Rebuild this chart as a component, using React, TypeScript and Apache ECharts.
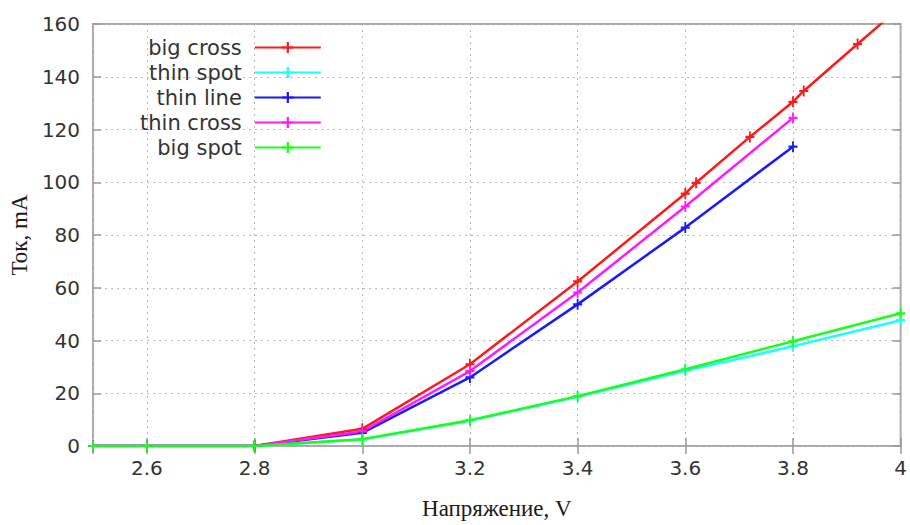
import React, { useEffect, useRef } from "react";
import * as echarts from "echarts";

const seriesNames = ["big cross", "thin spot", "thin line", "thin cross", "big spot"];
const seriesColors = ["#ff1a1a", "#1affff", "#1a1aff", "#ff1aff", "#1aff1a"];

const bigCross: [number, number][] = [
  [2.5, 0], [2.6, 0], [2.8, 0], [3.0, 6.5], [3.2, 31], [3.4, 62.4], [3.6, 95.7],
  [3.62, 99.8], [3.72, 117.2], [3.8, 130.5], [3.82, 134.6], [3.92, 152.4], [4.02, 170],
];
const thinSpot: [number, number][] = [
  [2.5, 0], [2.6, 0], [2.8, 0], [3.0, 2.5], [3.2, 9.6], [3.4, 18.7], [3.6, 28.5], [3.8, 37.8], [4.0, 47.7],
];
const thinLine: [number, number][] = [
  [2.5, 0], [2.6, 0], [2.8, 0], [3.0, 5], [3.2, 26], [3.4, 53.7], [3.6, 82.8], [3.8, 113.5],
];
const thinCross: [number, number][] = [
  [2.5, 0], [2.6, 0], [2.8, 0], [3.0, 5.5], [3.2, 28.4], [3.4, 58.2], [3.6, 90.8], [3.8, 124.4],
];
const bigSpot: [number, number][] = [
  [2.5, 0], [2.6, 0], [2.8, 0], [3.0, 2.6], [3.2, 9.8], [3.4, 18.9], [3.6, 29.1], [3.8, 39.7], [4.0, 50.3],
];
const seriesData = [bigCross, thinSpot, thinLine, thinCross, bigSpot];

const xName = "Напряжение, V";
const yName = "Ток, mA";

const plusPath = "path://M4,0 L6,0 L6,4 L10,4 L10,6 L6,6 L6,10 L4,10 L4,6 L0,6 L0,4 L4,4 Z";

export default function App() {
  const ref = useRef<HTMLDivElement>(null);
  useEffect(() => {
    if (!ref.current) return;
    const chart = echarts.init(ref.current, null, { renderer: "svg" });
    const labelFont = { fontFamily: "DejaVu Sans", fontSize: 20, color: "#333" };
    const frameColor = "#a8a8a8";
    const gridLine = { show: true, lineStyle: { color: "#b8b8b8", type: [2, 4] as any, width: 1 } };
    const tick = { show: true, inside: true, length: 8, lineStyle: { color: "#999", width: 1.5 } };
    chart.setOption({
      animation: false,
      backgroundColor: "#fff",
      grid: {
        left: 93, right: 7, top: 24, bottom: 78,
        show: true, borderColor: frameColor, borderWidth: 2, backgroundColor: "transparent",
      },
      legend: {
        orient: "vertical",
        align: "right",
        left: 135,
        top: 32,
        padding: 5,
        itemWidth: 66,
        itemHeight: 14,
        itemGap: 4,
        data: seriesNames,
        textStyle: {
          fontFamily: "DejaVu Sans", fontSize: 21, color: "#333", lineHeight: 20,
          padding: [0, 8, 0, 0],
        },
      },
      xAxis: [
        {
          type: "value", min: 2.5, max: 4, splitNumber: 7,
          axisLine: { show: false },
          axisTick: tick,
          splitLine: gridLine,
          axisLabel: { ...labelFont, margin: 12, showMinLabel: false },
          name: xName, nameLocation: "middle", nameGap: 51,
          nameTextStyle: { fontFamily: "Liberation Serif", fontSize: 23, color: "#1a1a1a" },
        },
        {
          type: "value", min: 2.5, max: 4, splitNumber: 7, position: "top",
          axisLine: { show: false }, axisTick: tick, splitLine: { show: false },
          axisLabel: { show: false },
        },
      ],
      yAxis: [
        {
          type: "value", min: 0, max: 160, interval: 20,
          axisLine: { show: false },
          axisTick: tick,
          splitLine: gridLine,
          axisLabel: { ...labelFont, margin: 13 },
          name: yName, nameLocation: "middle", nameGap: 61,
          nameTextStyle: { fontFamily: "Liberation Serif", fontSize: 23, color: "#1a1a1a" },
        },
        {
          type: "value", min: 0, max: 160, interval: 20, position: "right",
          axisLine: { show: false }, axisTick: tick, splitLine: { show: false },
          axisLabel: { show: false },
        },
      ],
      series: seriesNames.map((name, i) => ({
        name,
        type: "line",
        xAxisIndex: 0,
        yAxisIndex: 0,
        data: seriesData[i],
        color: seriesColors[i],
        symbol: plusPath,
        symbolSize: [9, 11],
        showAllSymbol: true,
        clip: true,
        lineStyle: { width: 2.5, color: seriesColors[i] },
        itemStyle: { color: seriesColors[i] },
      })),
    });
    return () => chart.dispose();
  }, []);
  return (
    <div
      ref={ref}
      style={{ position: "absolute", left: 0, top: 0, width: 910, height: 525 }}
    />
  );
}
